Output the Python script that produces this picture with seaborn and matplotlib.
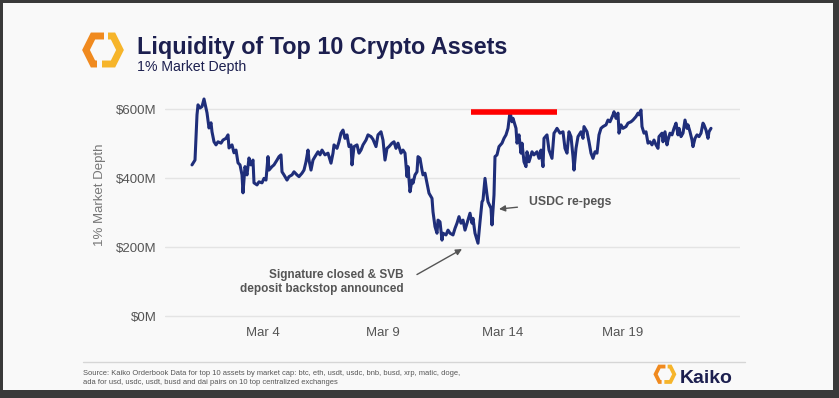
import pandas as pd
import seaborn as sns
import matplotlib.pyplot as plt
import matplotlib.dates as mdates
from matplotlib.lines import Line2D
from matplotlib.patches import Rectangle
from matplotlib.ticker import FuncFormatter
from matplotlib import font_manager

# hourly samples, hours counted from Mar 1 00:00
START = pd.Timestamp("2023-03-01 00:00")

hours = [
    1, 4, 6, 7, 9, 11, 13, 15, 16, 18, 20, 21, 23, 25, 27, 30, 32, 35, 37, 38,
    41, 43, 45, 47, 49, 51, 52, 54, 56, 58, 60, 62, 63, 66, 68, 71, 73, 75, 77, 78,
    81, 83, 86, 88, 90, 91, 93, 96, 98, 101, 103, 106, 108, 111, 113, 115, 117, 118, 120, 122,
    124, 127, 129, 131, 134, 137, 140, 142, 143, 146, 148, 150, 152, 154, 156, 158, 160, 161, 163, 166,
    168, 170, 172, 175, 177, 180, 182, 185, 187, 190, 192, 194, 196, 198, 201, 203, 205, 207, 210, 212,
    214, 216, 217, 219, 221, 222, 224, 226, 227, 229, 231, 232, 234, 236, 238, 241, 242, 244, 246, 247,
    249, 251, 252, 255, 257, 259, 262, 264, 266, 268, 270, 272, 274, 276, 279, 281, 282, 284, 286, 287,
    289, 291, 292, 294, 296, 297, 300, 301, 303, 304, 306, 308, 311, 313, 315, 317, 319, 321, 322, 325,
    326, 328, 330, 331, 333, 335, 336, 338, 341, 343, 346, 348, 350, 352, 353, 356, 358, 361, 363, 364,
    366, 369, 372, 374, 376, 378, 380, 382, 383, 385, 387, 390, 392, 393, 396, 398, 400, 402, 404, 406,
    408, 410, 412, 415, 417, 419, 422, 423, 425, 427, 428, 430, 432, 435, 437, 440, 442, 445, 447, 448,
    450, 451, 453, 455, 457, 459, 461, 463, 465, 467, 468, 471, 472, 474, 476, 477, 479, 481, 483, 485,
    487, 488, 490, 492, 494, 496, 497, 499, 501, 502, 504, 506, 508, 510, 512, 513, 515, 517, 518, 520,
]

depth_musd = [
    438, 452, 583, 612, 603, 607, 629, 603, 589, 545, 560, 534, 505, 496, 505, 501, 510, 515, 525, 487,
    496, 473, 481, 444, 438, 409, 357, 433, 409, 458, 438, 452, 386, 380, 389, 386, 399, 394, 462, 423,
    433, 438, 452, 462, 467, 418, 409, 394, 404, 409, 418, 409, 404, 414, 423, 447, 481, 452, 423, 452,
    462, 476, 467, 481, 467, 472, 443, 472, 496, 486, 505, 530, 539, 515, 525, 491, 496, 438, 491, 496,
    472, 481, 496, 510, 525, 520, 512, 491, 525, 534, 510, 452, 486, 491, 501, 505, 486, 501, 472, 481,
    472, 404, 433, 360, 394, 385, 409, 418, 462, 457, 423, 409, 414, 385, 356, 341, 302, 259, 240, 278,
    273, 220, 240, 235, 249, 240, 235, 254, 269, 288, 269, 278, 249, 269, 298, 269, 283, 240, 220, 211,
    273, 331, 336, 399, 351, 331, 312, 264, 351, 462, 467, 491, 501, 515, 525, 544, 592, 563, 573, 544,
    501, 525, 472, 501, 447, 433, 476, 447, 476, 467, 476, 457, 481, 433, 515, 525, 481, 457, 530, 534,
    544, 530, 534, 486, 472, 534, 520, 462, 423, 486, 520, 534, 515, 549, 534, 505, 472, 457, 476, 472,
    525, 544, 549, 554, 568, 563, 583, 592, 573, 588, 530, 554, 544, 549, 559, 563, 568, 578, 588, 583,
    597, 549, 530, 534, 501, 505, 496, 510, 496, 486, 520, 530, 505, 534, 496, 510, 530, 525, 544, 559,
    525, 544, 520, 530, 568, 544, 554, 534, 510, 491, 515, 525, 520, 530, 559, 554, 539, 515, 534, 544,
]

tick_days = ["2023-03-04", "2023-03-09", "2023-03-14", "2023-03-19"]
y_ticks = [0, 200, 400, 600]

# red marker bar over the post-repeg peak
peak_bar_hours = [280, 366]
peak_bar_level = 592

usdc_note = "USDC re-pegs"
usdc_arrow_at = (308, 310)
usdc_text_at = (338, 331)

svb_note = "Signature closed & SVB\ndeposit backstop announced"
svb_arrow_at = (271, 194)
svb_text_at = (213, 99)

source_note = ("Source: Kaiko Orderbook Data for top 10 assets by market cap: btc, eth, usdt, usdc, bnb, busd, xrp, matic, doge,\n"
               "ada for usd, usdc, usdt, busd and dai pairs on 10 top centralized exchanges")

W, H = 839, 398
NAVY = "#1c1f4f"
LINE = "#1f2e7a"
GREY = "#555555"

df = pd.DataFrame({
    "time": [START + pd.Timedelta(hours=h) for h in hours],
    "depth": depth_musd,
})

sns.set_style("white")
plt.rcParams["font.family"] = ["Liberation Sans", "DejaVu Sans"]

names = {f.name for f in font_manager.fontManager.ttflist}
narrow = "Liberation Sans Narrow" in names


def px(x, y):
    # pixel position (top-left origin) to figure fraction
    return x / W, 1 - y / H


def draw_logo(fig, x0, y0, s):
    left = [(104, 38), (93, 38), (86, 52), (93, 66), (97, 66)]
    right = [(108, 38), (113, 38), (120, 52), (113, 66), (102, 66)]
    for pts, col in [(left, "#f08a1f"), (right, "#f6b52b")]:
        xs, ys = zip(*[px(x0 + (a - 85) * s, y0 + (b - 37) * s) for a, b in pts])
        fig.add_artist(Line2D(xs, ys, color=col, lw=5.0 * s, solid_joinstyle="miter",
                              solid_capstyle="butt"))


fig = plt.figure(figsize=(W / 100, H / 100), dpi=100)
fig.patch.set_facecolor("#3a3a3a")
fig.add_artist(Rectangle(px(3, 390), (W - 9) / W, (390 - 3) / H,
                         facecolor="#f9f9f9", edgecolor="none", zorder=0))

ax = fig.add_axes([165 / W, 1 - 321.2 / H, 575 / W, 229.45 / H])
ax.set_facecolor("none")

sns.lineplot(data=df, x="time", y="depth", ax=ax, color=LINE, lw=2.2, zorder=3)

bar_times = [START + pd.Timedelta(hours=h) for h in peak_bar_hours]
ax.hlines(peak_bar_level, bar_times[0], bar_times[1], color="#ff0000", lw=4, zorder=4)

ax.set_ylim(-15, 650)
ax.set_xlim(START - pd.Timedelta(hours=26), START + pd.Timedelta(hours=549))
ax.set_yticks(y_ticks)
ax.yaxis.set_major_formatter(FuncFormatter(lambda v, p: f"${v:.0f}M"))
ax.set_xticks(pd.to_datetime(tick_days))
ax.xaxis.set_major_formatter(mdates.DateFormatter("%b %-d"))
ax.grid(axis="y", color="#e4e4e4", lw=1)
ax.grid(axis="x", visible=False)
sns.despine(ax=ax, left=True, bottom=True)
ax.tick_params(axis="both", length=0, labelsize=9.5, labelcolor=GREY)
ax.tick_params(axis="x", pad=4)
ax.tick_params(axis="y", pad=6)
ax.set_xlabel("")
ax.set_ylabel("1% Market Depth", fontsize=9.5, color="#777777")
ax.yaxis.set_label_coords(-0.102, 0.55)


def at(h, v):
    return (START + pd.Timedelta(hours=h), v)


ax.annotate(usdc_note, xy=at(*usdc_arrow_at), xytext=at(*usdc_text_at),
            ha="left", va="center", fontsize=8.8, fontweight="bold", color=GREY,
            arrowprops=dict(arrowstyle="-|>", color=GREY, lw=1, shrinkA=6, shrinkB=0,
                            mutation_scale=9))
ax.annotate(svb_note, xy=at(*svb_arrow_at), xytext=at(*svb_text_at),
            ha="right", va="center", fontsize=8.5, fontweight="bold", color=GREY,
            multialignment="right", linespacing=1.3,
            arrowprops=dict(arrowstyle="-|>", color=GREY, lw=1, shrinkA=8, shrinkB=0,
                            mutation_scale=9, relpos=(1, 0.5)))

# header
fig.text(*px(137, 54), "Liquidity of Top 10 Crypto Assets", fontsize=16.8,
         fontweight="bold", color=NAVY, va="baseline")
fig.text(*px(137, 71), "1% Market Depth", fontsize=10.2, color=NAVY, va="baseline")
draw_logo(fig, 85, 35, 1.0)

# footer
fig.add_artist(Line2D([83 / W, 745 / W], [1 - 362 / H] * 2, color="#d6d6d6", lw=1))
if narrow:
    fig.text(*px(83, 378), source_note, fontsize=7.0, family="Liberation Sans Narrow",
             color=GREY, va="center", linespacing=1.15)
else:
    fig.text(*px(83, 378), source_note, fontsize=5.4, color=GREY, va="center",
             linespacing=1.45)
draw_logo(fig, 655, 366, 0.55)
fig.text(*px(680, 383), "Kaiko", fontsize=14, fontweight="bold", color=NAVY,
         va="baseline")

fig.savefig("out.png", dpi=100, facecolor=fig.get_facecolor())
